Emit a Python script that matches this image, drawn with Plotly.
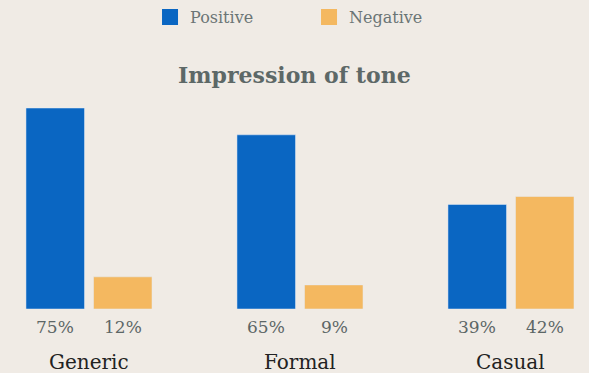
import plotly.graph_objects as go

categories = ["Generic", "Formal", "Casual"]
positive = [75, 65, 39]
negative = [12, 9, 42]
pos_labels = ["75%", "65%", "39%"]
neg_labels = ["12%", "9%", "42%"]

BLUE = "#0a66c2"
ORANGE = "#f4b860"
BG = "#f0ebe5"
FONT = "DejaVu Serif"

fig = go.Figure()
fig.add_trace(go.Bar(x=categories, y=positive, name="Positive", marker_color=BLUE, showlegend=False))
fig.add_trace(go.Bar(x=categories, y=negative, name="Negative", marker_color=ORANGE, showlegend=False))
# legend entries with larger square symbols
fig.add_trace(go.Scatter(x=[None], y=[None], mode="markers", name="Positive",
                         marker=dict(symbol="square", size=16, color=BLUE)))
fig.add_trace(go.Scatter(x=[None], y=[None], mode="markers", name="Negative",
                         marker=dict(symbol="square", size=16, color=ORANGE)))

ann = []
for c, p, n in zip(categories, pos_labels, neg_labels):
    ann.append(dict(x=c, y=0, xref="x", yref="y", text=p, showarrow=False,
                    xshift=-34, yshift=-18, font=dict(family=FONT, size=17, color="#5c6666")))
    ann.append(dict(x=c, y=0, xref="x", yref="y", text=n, showarrow=False,
                    xshift=34, yshift=-18, font=dict(family=FONT, size=17, color="#5c6666")))
    ann.append(dict(x=c, y=0, xref="x", yref="y", text=c, showarrow=False,
                    yshift=-53, font=dict(family=FONT, size=20, color="#222222")))
ann.append(dict(x=0.5, y=1.093, xref="paper", yref="paper", text="<b>Impression of tone</b>",
                showarrow=False, xanchor="center", yanchor="middle",
                font=dict(family=FONT, size=22, color="#5d6867")))

fig.update_layout(
    width=589, height=373,
    margin=dict(l=0, r=0, t=95, b=64),
    paper_bgcolor=BG, plot_bgcolor=BG,
    barmode="group", bargap=0.36, bargroupgap=0.133,
    xaxis=dict(range=[-0.4218, 2.3697], showticklabels=False, showgrid=False,
               zeroline=False, showline=False),
    yaxis=dict(range=[0, 79.85], visible=False),
    showlegend=True,
    legend=dict(orientation="h", x=0.2547, xanchor="left", y=1.443, yanchor="top",
                font=dict(family=FONT, size=16, color="#6b7575"),
                entrywidth=114, entrywidthmode="pixels", bgcolor="rgba(0,0,0,0)"),
    annotations=ann,
)

fig.write_html("out.html")
